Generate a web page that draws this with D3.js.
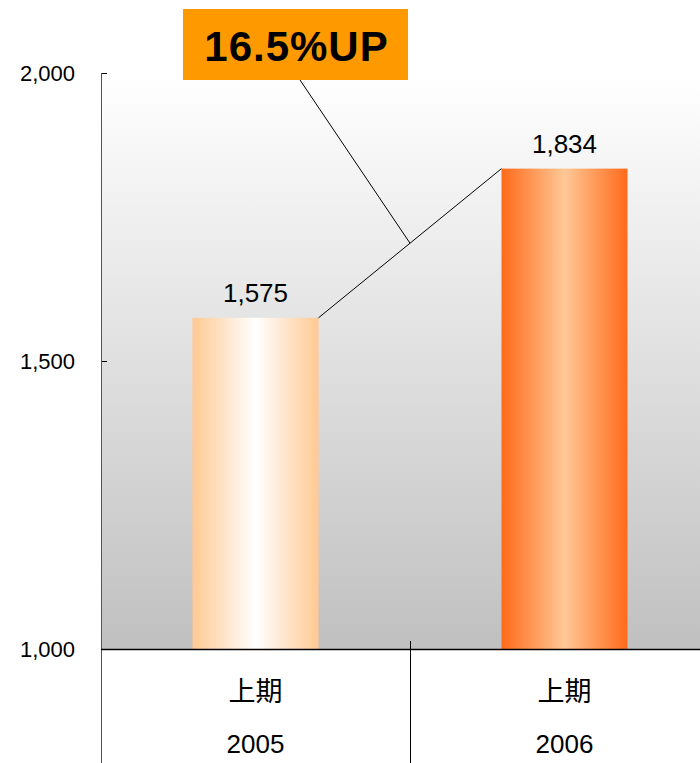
<!DOCTYPE html>
<html>
<head>
<meta charset="utf-8">
<script src="https://cdn.jsdelivr.net/npm/d3@7"></script>
<style>
  html, body { margin: 0; padding: 0; background: #fff; }
  svg { display: block; }
</style>
</head>
<body>
<svg id="chart" width="700" height="763"></svg>
<script>
const categories = ["2005", "2006"];
const periodLabels = ["上期", "上期"];
const values = [1575, 1834];
const valueLabels = ["1,575", "1,834"];
const yTicks = [1000, 1500, 2000];
const yTickLabels = ["1,000", "1,500", "2,000"];
const calloutText = "16.5%UP";

(function () {
const svg = d3.select("#chart");
const W = 700, H = 763;
const mLeft = 101, mRight = 719, mTop = 73, mBottom = 649;

const x = d3.scaleBand().domain(categories).range([mLeft, mRight])
  .paddingInner(1 - 126 / 309).paddingOuter((1 - 126 / 309) / 2);
const y = d3.scaleLinear().domain([1000, 2000]).range([mBottom, mTop]);

const defs = svg.append("defs");
const bg = defs.append("linearGradient").attr("id", "bg").attr("x1", 0).attr("y1", 0).attr("x2", 0).attr("y2", 1);
bg.append("stop").attr("offset", "0%").attr("stop-color", "#ffffff");
bg.append("stop").attr("offset", "100%").attr("stop-color", "#c0c0c0");

const g1 = defs.append("linearGradient").attr("id", "bar0").attr("x1", 0).attr("x2", 1).attr("y1", 0).attr("y2", 0);
g1.append("stop").attr("offset", "0%").attr("stop-color", "#ffc993");
g1.append("stop").attr("offset", "50%").attr("stop-color", "#ffffff");
g1.append("stop").attr("offset", "100%").attr("stop-color", "#ffc993");

const g2 = defs.append("linearGradient").attr("id", "bar1").attr("x1", 0).attr("x2", 1).attr("y1", 0).attr("y2", 0);
g2.append("stop").attr("offset", "0%").attr("stop-color", "#ff6a1a");
g2.append("stop").attr("offset", "50%").attr("stop-color", "#ffc896");
g2.append("stop").attr("offset", "100%").attr("stop-color", "#ff6a1a");

// plot background
svg.append("rect").attr("x", mLeft).attr("y", y(2000)).attr("width", W - mLeft).attr("height", y(1000) - y(2000))
  .attr("fill", "url(#bg)");

// bars
svg.selectAll("rect.bar").data(values).enter().append("rect").attr("class", "bar")
  .attr("x", (d, i) => x(categories[i]))
  .attr("y", d => y(d))
  .attr("width", x.bandwidth())
  .attr("height", d => y(1000) - y(d))
  .attr("fill", (d, i) => `url(#bar${i})`);

// value labels
svg.selectAll("text.val").data(values).enter().append("text").attr("class", "val")
  .attr("x", (d, i) => x(categories[i]) + x.bandwidth() / 2)
  .attr("y", d => y(d) - 16)
  .attr("text-anchor", "middle")
  .attr("font-family", "Liberation Sans, Arial, sans-serif")
  .attr("font-size", 26)
  .attr("fill", "#000")
  .text((d, i) => valueLabels[i]);

// y axis
const yAxis = d3.axisLeft(y).tickValues(yTicks).tickFormat((d, i) => yTickLabels[i])
  .tickSizeInner(-6).tickSizeOuter(0).tickPadding(26);
const ax = svg.append("g").attr("transform", `translate(${mLeft},0)`).call(yAxis);
ax.select(".domain").remove();
ax.selectAll(".tick line").attr("stroke", "#000");
ax.selectAll(".tick text").attr("font-family", "Liberation Sans, Arial, sans-serif").attr("font-size", 22).attr("fill", "#000");

// axis line extended down
svg.append("line").attr("x1", mLeft + 0.5).attr("x2", mLeft + 0.5).attr("y1", mTop).attr("y2", H).attr("stroke", "#555").attr("stroke-width", 1);
// baseline
svg.append("line").attr("x1", mLeft).attr("x2", W).attr("y1", mBottom + 0.5).attr("y2", mBottom + 0.5).attr("stroke", "#000").attr("stroke-width", 1.5);
// category divider
const divX = (x(categories[0]) + x.bandwidth() + x(categories[1])) / 2;
svg.append("line").attr("x1", Math.round(divX) + 0.5).attr("x2", Math.round(divX) + 0.5).attr("y1", mBottom - 8).attr("y2", H).attr("stroke", "#000");

// category labels
svg.selectAll("text.per").data(categories).enter().append("text").attr("class", "per")
  .attr("x", d => x(d) + x.bandwidth() / 2).attr("y", 701)
  .attr("text-anchor", "middle")
  .attr("font-family", "Noto Sans CJK JP, sans-serif").attr("font-size", 27).attr("fill", "#000")
  .text((d, i) => periodLabels[i]);
svg.selectAll("text.yr").data(categories).enter().append("text").attr("class", "yr")
  .attr("x", d => x(d) + x.bandwidth() / 2).attr("y", 753)
  .attr("text-anchor", "middle")
  .attr("font-family", "Liberation Sans, Arial, sans-serif").attr("font-size", 26).attr("fill", "#000")
  .text(d => d);

// connector
const p1 = [x(categories[0]) + x.bandwidth(), y(values[0])];
const p2 = [x(categories[1]), y(values[1])];
svg.append("line").attr("x1", p1[0]).attr("y1", p1[1]).attr("x2", p2[0]).attr("y2", p2[1]).attr("stroke", "#000").attr("stroke-width", 1);
const mid = [(p1[0] + p2[0]) / 2, (p1[1] + p2[1]) / 2];

// callout box
const boxX = 183, boxY = 9, boxW = 225, boxH = 71;
svg.append("line").attr("x1", 300).attr("y1", boxY + boxH).attr("x2", mid[0]).attr("y2", mid[1]).attr("stroke", "#000").attr("stroke-width", 1);
svg.append("rect").attr("x", boxX).attr("y", boxY).attr("width", boxW).attr("height", boxH).attr("fill", "#ff9900");
svg.append("text").attr("x", boxX + boxW / 2 + 1).attr("y", 61)
  .attr("text-anchor", "middle")
  .attr("font-family", "Liberation Sans, Arial, sans-serif").attr("font-weight", "bold").attr("font-size", 42)
  .attr("letter-spacing", 1)
  .attr("fill", "#000").text(calloutText);
})();
</script>
</body>
</html>
